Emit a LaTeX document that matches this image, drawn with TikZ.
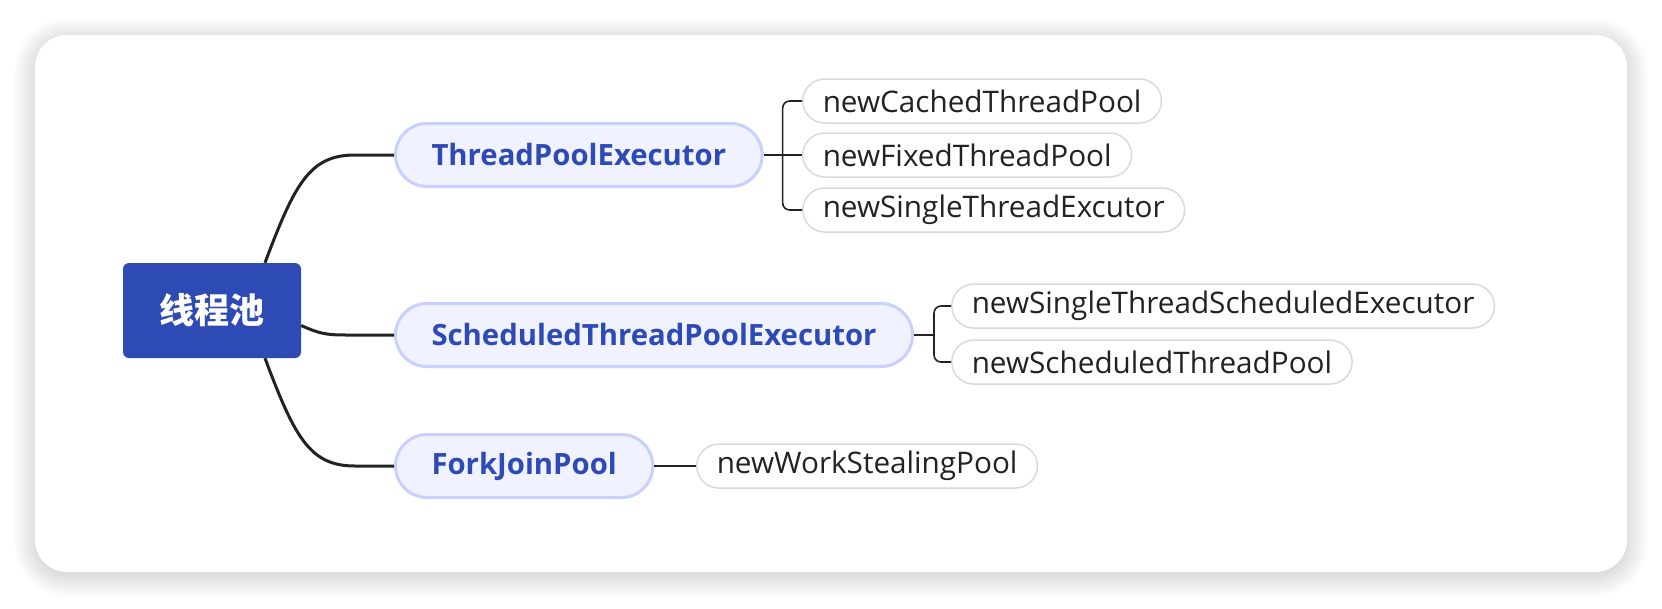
\documentclass[tikz,border=0pt]{standalone}
\usepackage{fontspec}
\setmainfont{Open Sans}
\newfontfamily\cjk{Noto Sans CJK SC}
\usetikzlibrary{shadows.blur}

\definecolor{poolblue}{RGB}{46,74,181}
\definecolor{branchfill}{RGB}{240,242,255}
\definecolor{branchline}{RGB}{200,208,255}
\definecolor{leafline}{RGB}{218,218,218}
\definecolor{ink}{RGB}{34,34,34}

\tikzset{
  rootbox/.style={fill=poolblue,text=white,rounded corners=6pt,
    minimum width=178pt,minimum height=95pt,inner sep=0pt,
    font=\cjk\bfseries\fontsize{35}{40}\selectfont},
  branchbox/.style={fill=branchfill,draw=branchline,line width=3pt,
    rounded corners=31.5pt,minimum height=63pt,inner xsep=36pt,inner ysep=0pt,
    anchor=west,text=poolblue,font=\bfseries\fontsize{29.3}{34}\selectfont},
  leafbox/.style={fill=white,draw=leafline,line width=1.5pt,
    rounded corners=22pt,minimum height=44pt,inner xsep=20pt,inner ysep=0pt,
    anchor=west,text=ink,font=\fontsize{29.7}{34}\selectfont},
  trunk/.style={draw=ink,line width=3pt},
  twig/.style={draw=ink,line width=1.6pt,rounded corners=7pt}
}

\begin{document}
\begin{tikzpicture}[x=1pt,y=-1pt]
  \useasboundingbox (0,0) rectangle (1662,608);
  % card
  \fill[white,rounded corners=32pt,
        blur shadow={shadow xshift=0pt,shadow yshift=-4pt,shadow blur radius=22pt,
                     shadow blur steps=40,shadow opacity=25}]
       (35,35) rectangle (1627,572);

  \node[rootbox] (pool) at (212,310.5) {线程池};

  \node[branchbox] (tpe)   at (394,155) {ThreadPoolExecutor};
  \node[branchbox] (stpe)  at (394,335) {ScheduledThreadPoolExecutor};
  \node[branchbox] (fjp)   at (394,466) {ForkJoinPool};

  \node[leafbox] (cached)  at (802,101) {newCachedThreadPool};
  \node[leafbox] (fixed)   at (802,155) {newFixedThreadPool};
  \node[leafbox] (single)  at (802,210) {newSingleThreadExcutor};
  \node[leafbox] (ssched)  at (951,306) {newSingleThreadScheduledExecutor};
  \node[leafbox] (sched)   at (951,362) {newScheduledThreadPool};
  \node[leafbox] (steal)   at (696,466) {newWorkStealingPool};

  % trunk lines
  \draw[trunk] ([xshift=53pt]pool.north) .. controls +(30,-80) and +(-45,0) .. ([xshift=-39pt]tpe.west) -- (tpe.west);
  \draw[trunk] ([yshift=-15pt]pool.east) .. controls +(22,10) and +(-25,0) .. ([xshift=-39pt]stpe.west) -- (stpe.west);
  \draw[trunk] ([xshift=53pt]pool.south) .. controls +(30,80) and +(-45,0) .. ([xshift=-39pt]fjp.west) -- (fjp.west);

  % twigs
  \coordinate (tpefork) at ([xshift=19pt]tpe.east);
  \coordinate (stpefork) at ([xshift=20pt]stpe.east);
  \draw[twig] (tpe.east) -- (fixed.west);
  \draw[twig] (tpefork) |- (cached.west);
  \draw[twig] (tpefork) |- (single.west);
  \draw[twig] (stpe.east) -- (stpefork);
  \draw[twig] (stpefork) |- (ssched.west);
  \draw[twig] (stpefork) |- (sched.west);
  \draw[twig] (fjp.east) -- (steal.west);
\end{tikzpicture}
\end{document}
